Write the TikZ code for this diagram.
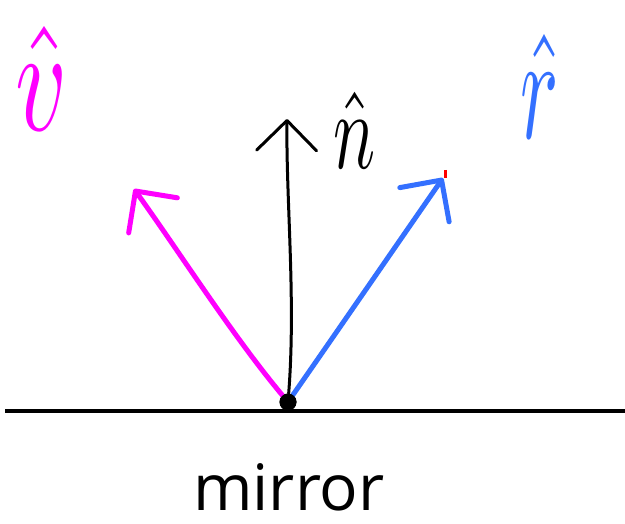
\documentclass[tikz,border=0pt]{standalone}
\usepackage{fontspec}
\newfontfamily\labelfont{Open Sans}
\usepackage{xcolor}
\usepackage{tikz}
\usetikzlibrary{arrows.meta}

\definecolor{vmag}{RGB}{255,0,255}
\definecolor{rblue}{RGB}{52,112,255}

\begin{document}
\begin{tikzpicture}[
  x=1pt, y=-1pt,
  vec/.style={line width=5pt, line cap=round,
    -{Straight Barb[length=30pt, width=60pt, round]}},
  lbl/.style={inner sep=0pt},
  dot/.style={circle, fill=black, inner sep=0pt, minimum size=17pt}
]
\useasboundingbox (0,0) rectangle (625,524);
\node[dot] (o) at (288,402) {};
\coordinate (vtip) at (134,189);
\coordinate (ntip) at (287,119);
\coordinate (rtip) at (443,178);
% mirror
\coordinate (ml) at (5,411);
\coordinate (mr) at (625,411);
\draw[line width=4.5pt] (ml) -- (mr);
\node[anchor=base, inner sep=0pt, font=\labelfont\fontsize{64}{64}\selectfont] (mirror) at (289,510) {mirror};
% vectors
\draw[vec, vmag] (o) .. controls (232,335) and (178,250) .. (vtip);
\draw[vec, line width=3pt] (o) .. controls (296,300) and (286,200) .. (ntip);
\draw[vec, rblue] (o) .. controls (345,320) and (400,240) .. (rtip);
\draw[red, line width=3pt] (445,170) -- (445,178);
\node[dot] at (o) {};
% labels
\node[lbl, vmag] (v) at (42,78) {\scalebox{10}[15]{$\hat{v}$}};
\node[lbl] (n) at (355,130) {\scalebox{7}[11]{$\hat{n}$}};
\node[lbl, rblue] (r) at (540,86) {\scalebox{8}[15]{$\hat{r}$}};
\end{tikzpicture}
\end{document}
